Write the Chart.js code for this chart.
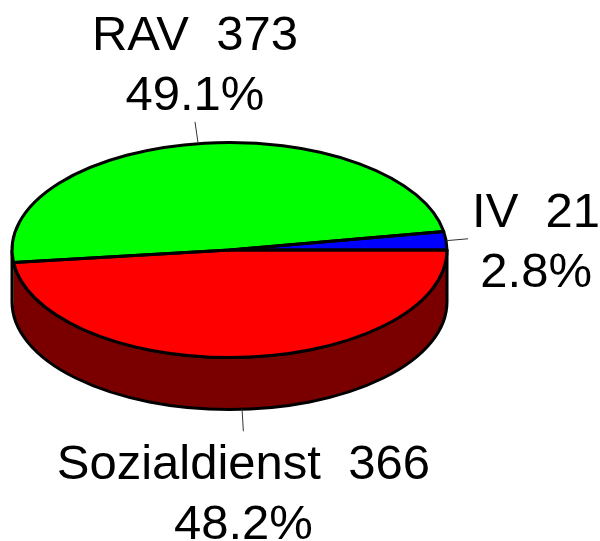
<!DOCTYPE html>
<html>
<head>
<meta charset="utf-8">
<script src="https://cdn.jsdelivr.net/npm/chart.js@4/dist/chart.umd.min.js"></script>
<style>
  html, body { margin: 0; padding: 0; background: #fff; }
  canvas { display: block; }
</style>
</head>
<body>
<canvas id="pie" width="600" height="541"></canvas>
<script>
const labels = ["Sozialdienst", "RAV", "IV"];
const counts = [366, 373, 21];
const topColors = ["#ff0000", "#00ff00", "#0000ff"];
const sideColors = ["#7a0000", "#007a00", "#00007a"];

const flat = 107.5 / 217.5; // vertical squash of the pie
const depth = 52;           // height of the side wall
const font = '49px "Liberation Sans", Arial, sans-serif';

const total = counts.reduce((a, b) => a + b, 0);

function geom(chart) {
    const arcs = chart.getDatasetMeta(0).data;
    const a = arcs[0];
    return { arcs: arcs, cx: a.x, cy: a.y, rx: a.outerRadius, ry: a.outerRadius * flat };
}

const pie3d = {
    id: "pie3d",
    beforeDatasetsDraw(chart) {
        const ctx = chart.ctx;
        const g = geom(chart);
        // side wall, only the front half (0..PI) is visible
        g.arcs.forEach((arc, i) => {
            const a1 = Math.max(arc.startAngle, 0);
            const a2 = Math.min(arc.endAngle, Math.PI);
            if (a1 >= a2) return;
            ctx.beginPath();
            ctx.ellipse(g.cx, g.cy, g.rx, g.ry, 0, a1, a2);
            ctx.ellipse(g.cx, g.cy + depth, g.rx, g.ry, 0, a2, a1, true);
            ctx.closePath();
            ctx.fillStyle = sideColors[i];
            ctx.fill();
        });
        ctx.beginPath();
        ctx.ellipse(g.cx, g.cy, g.rx, g.ry, 0, 0, Math.PI);
        ctx.ellipse(g.cx, g.cy + depth, g.rx, g.ry, 0, Math.PI, 0, true);
        ctx.closePath();
        ctx.lineWidth = 3;
        ctx.strokeStyle = "#000";
        ctx.stroke();

        ctx.save();
        ctx.translate(g.cx, g.cy);
        ctx.scale(1, flat);
        ctx.translate(-g.cx, -g.cy);
    },
    afterDatasetsDraw(chart) {
        const ctx = chart.ctx;
        ctx.restore();
        const g = geom(chart);

        // slice outlines on the top face
        ctx.lineWidth = 3;
        ctx.strokeStyle = "#000";
        ctx.lineJoin = "round";
        g.arcs.forEach(arc => {
            ctx.beginPath();
            ctx.moveTo(g.cx, g.cy);
            ctx.ellipse(g.cx, g.cy, g.rx, g.ry, 0, arc.startAngle, arc.endAngle);
            ctx.closePath();
            ctx.stroke();
        });

        // leader lines and labels
        ctx.font = font;
        ctx.fillStyle = "#000";
        g.arcs.forEach((arc, i) => {
            const m = (arc.startAngle + arc.endAngle) / 2;
            const c = Math.cos(m), s = Math.sin(m);
            const px = g.cx + g.rx * c;
            const py = g.cy + g.ry * s + (s > 0 ? depth : 0);
            const ex = px + 22 * c;
            const ey = py + 22 * s;
            ctx.beginPath();
            ctx.moveTo(px, py);
            ctx.lineTo(ex, ey);
            ctx.lineWidth = 1;
            ctx.strokeStyle = "#333";
            ctx.stroke();

            const lines = [labels[i] + "  " + counts[i], (counts[i] / total * 100).toFixed(1) + "%"];
            ctx.textAlign = "center";
            ctx.textBaseline = "alphabetic";
            let x = ex, y0;
            if (Math.abs(c) > Math.abs(s)) {
                const w = Math.max(...lines.map(t => ctx.measureText(t).width));
                x = c > 0 ? ex + 4 + w / 2 : ex - 4 - w / 2;
                y0 = ey - 12;
            } else if (s < 0) {
                y0 = ey - 12 - 60;
            } else {
                y0 = ey + 48;
            }
            lines.forEach((t, k) => ctx.fillText(t, x, y0 + k * 60));
        });
    }
};

new Chart(document.getElementById("pie"), {
    type: "pie",
    data: {
        labels: labels,
        datasets: [{
            data: counts,
            backgroundColor: topColors,
            borderWidth: 0
        }]
    },
    options: {
        responsive: false,
        animation: false,
        devicePixelRatio: 1,
        rotation: 90,
        layout: { padding: { left: 12, right: 153, top: 32.5, bottom: 73.5 } },
        plugins: {
            legend: { display: false },
            tooltip: { enabled: false }
        }
    },
    plugins: [pie3d]
});
</script>
</body>
</html>
